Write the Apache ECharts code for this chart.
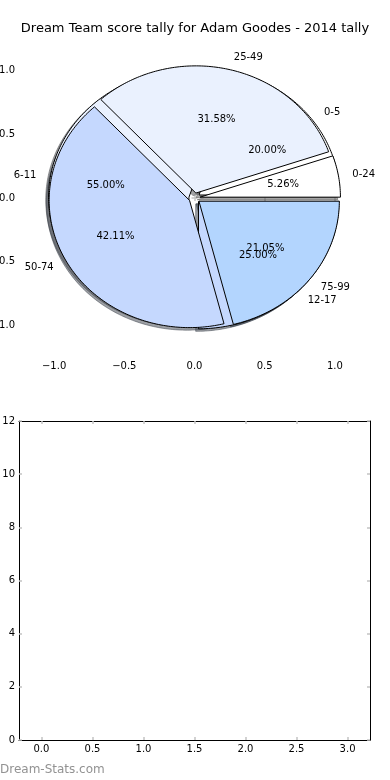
<!DOCTYPE html>
<html>
<head>
<meta charset="utf-8">
<script src="https://cdn.jsdelivr.net/npm/echarts@6/dist/echarts.min.js"></script>
<style>
html,body{margin:0;padding:0;background:#fff;}
#c{width:390px;height:780px;}
</style>
</head>
<body>
<div id="c"></div>
<script>
// ---- data ----
const titleText = 'Dream Team score tally for Adam Goodes - 2014 tally';
const pieALabels = ['0-24', '25-49', '50-74', '75-99'];
const pieAValues = [1, 6, 8, 4];
const pieBLabels = ['0-5', '6-11', '12-17'];
const pieBValues = [4, 11, 5];
const sliceColors = ['#ffffff', '#eaf1fe', '#c5d8fe', '#b3d5fe'];
const pieTicks = [-1.0, -0.5, 0.0, 0.5, 1.0];
const barXTicks = [0.0, 0.5, 1.0, 1.5, 2.0, 2.5, 3.0];
const barYTicks = [0, 2, 4, 6, 8, 10, 12];
const watermark = 'Dream-Stats.com';

const EXPLODE = 0.04;
const FONT = 'DejaVu Sans';
const tickGrey = '#c4c4c4';

function sum(a){ return a.reduce((s,v)=>s+v,0); }
function fmtPie(v){ return (v < 0 ? '\u2212' : '') + Math.abs(v).toFixed(1); }

function hexToRgb(h){
  const n = parseInt(h.slice(1),16);
  return [(n>>16)&255,(n>>8)&255,n&255];
}

function wedgeGeom(values, i){
  const total = sum(values);
  let start = 0;
  for (let k=0;k<i;k++) start += values[k];
  const t1 = 360*start/total, t2 = 360*(start+values[i])/total;
  const mid = (t1+t2)/2*Math.PI/180;
  return {t1, t2, mid, cx: EXPLODE*Math.cos(mid), cy: EXPLODE*Math.sin(mid)};
}

function wedgeRenderer(values, shadow){
  return function(params, api){
    const i = params.dataIndex;
    const g = wedgeGeom(values, i);
    const ox = shadow ? -0.02 : 0, oy = shadow ? -0.02 : 0;
    const cx = g.cx + ox, cy = g.cy + oy;
    const pts = [api.coord([cx, cy])];
    const n = Math.max(2, Math.ceil((g.t2-g.t1)/1));
    for (let j=0;j<=n;j++){
      const a = (g.t1 + (g.t2-g.t1)*j/n)*Math.PI/180;
      pts.push(api.coord([cx+Math.cos(a), cy+Math.sin(a)]));
    }
    let fill, stroke;
    if (shadow){
      const c = hexToRgb(sliceColors[i]).map(v=>Math.round(v*0.3));
      fill = 'rgba('+c.join(',')+',0.5)';
      stroke = fill;
    } else {
      fill = sliceColors[i];
      stroke = '#000';
    }
    return {type:'polygon', shape:{points:pts}, style:{fill, stroke, lineWidth:1}};
  };
}

function labelRenderer(values, labels){
  const total = sum(values);
  return function(params, api){
    const i = params.dataIndex;
    const g = wedgeGeom(values, i);
    const lx = g.cx + 1.1*Math.cos(g.mid), ly = g.cy + 1.1*Math.sin(g.mid);
    const px = g.cx + 0.6*Math.cos(g.mid), py = g.cy + 0.6*Math.sin(g.mid);
    const lp = api.coord([lx, ly]);
    const pp = api.coord([px, py]);
    return {type:'group', children:[
      {type:'text', x:lp[0], y:lp[1], style:{text:labels[i], fill:'#000', fontSize:10, fontFamily:FONT,
        align: lx > 0 ? 'left' : 'right', verticalAlign:'middle'}},
      {type:'text', x:pp[0], y:pp[1], style:{text:(100*values[i]/total).toFixed(2)+'%', fill:'#000', fontSize:10, fontFamily:FONT,
        align:'center', verticalAlign:'middle'}}
    ]};
  };
}

const chart = echarts.init(document.getElementById('c'), null, {renderer:'canvas'});

function pieXAxis(pos, showLabel){
  return {gridIndex:0, type:'value', position:pos, min:-1.25, max:1.25,
    axisLine:{show:false}, splitLine:{show:false},
    axisTick:{show:true, inside:true, length:3, lineStyle:{color:tickGrey, width:1.5}, customValues:pieTicks},
    axisLabel:{show:showLabel, customValues:pieTicks, formatter:fmtPie, color:'#000', fontSize:10, fontFamily:FONT, margin:4}};
}
function pieYAxis(pos, showLabel){
  return {gridIndex:0, type:'value', position:pos, min:-1.25, max:1.25,
    axisLine:{show:false}, splitLine:{show:false},
    axisTick:{show:true, inside:true, length:3, lineStyle:{color:tickGrey, width:1.5}, customValues:pieTicks},
    axisLabel:{show:showLabel, customValues:pieTicks, formatter:fmtPie, color:'#000', fontSize:10, fontFamily:FONT, margin:4}};
}
function barXAxis(pos, showLabel){
  return {gridIndex:1, type:'value', position:pos, min:-0.22, max:3.22,
    axisLine:{show:true, onZero:false, lineStyle:{color:'#000', width:1}}, splitLine:{show:false},
    axisTick:{show:true, inside:true, length:3, lineStyle:{color:tickGrey, width:1.5}, customValues:barXTicks},
    axisLabel:{show:showLabel, customValues:barXTicks, formatter:v=>v.toFixed(1), color:'#000', fontSize:10, fontFamily:FONT, margin:4}};
}
function barYAxis(pos, showLabel){
  return {gridIndex:1, type:'value', position:pos, min:0, max:12,
    axisLine:{show:true, onZero:false, lineStyle:{color:'#000', width:1}}, splitLine:{show:false},
    axisTick:{show:true, inside:true, length:3, lineStyle:{color:tickGrey, width:1.5}, customValues:barYTicks},
    axisLabel:{show:showLabel, customValues:barYTicks, color:'#000', fontSize:10, fontFamily:FONT, margin:4}};
}

const dataA = pieAValues.map((v,i)=>[i, v]);
const dataB = pieBValues.map((v,i)=>[i, v]);

chart.setOption({
  animation:false,
  backgroundColor:'#fff',
  title:{text:titleText, left:'center', top:22, padding:0, textStyle:{fontSize:13, fontWeight:'normal', fontFamily:FONT, color:'#000'}},
  grid:[
    {left:19, top:39, width:351, height:318, outerBoundsMode:'none', containLabel:false},
    {left:19, top:421, width:351, height:319, outerBoundsMode:'none', containLabel:false}
  ],
  xAxis:[pieXAxis('bottom', true), pieXAxis('top', false), barXAxis('bottom', true), barXAxis('top', false)],
  yAxis:[pieYAxis('left', true), pieYAxis('right', false), barYAxis('left', true), barYAxis('right', false)],
  graphic:[{type:'text', left:0, top:764, style:{text:watermark, fill:'#929292', fontSize:12, fontFamily:FONT}}],
  series:[
    {type:'custom', coordinateSystem:'cartesian2d', xAxisIndex:0, yAxisIndex:0, z:1, data:dataB, renderItem:wedgeRenderer(pieBValues, true)},
    {type:'custom', coordinateSystem:'cartesian2d', xAxisIndex:0, yAxisIndex:0, z:1, data:dataA, renderItem:wedgeRenderer(pieAValues, true)},
    {type:'custom', coordinateSystem:'cartesian2d', xAxisIndex:0, yAxisIndex:0, z:2, data:dataB, renderItem:wedgeRenderer(pieBValues, false)},
    {type:'custom', coordinateSystem:'cartesian2d', xAxisIndex:0, yAxisIndex:0, z:3, data:dataA, renderItem:wedgeRenderer(pieAValues, false)},
    {type:'custom', coordinateSystem:'cartesian2d', xAxisIndex:0, yAxisIndex:0, z:4, data:dataB, renderItem:labelRenderer(pieBValues, pieBLabels)},
    {type:'custom', coordinateSystem:'cartesian2d', xAxisIndex:0, yAxisIndex:0, z:5, data:dataA, renderItem:labelRenderer(pieAValues, pieALabels)}
  ]
});
</script>
</body>
</html>
